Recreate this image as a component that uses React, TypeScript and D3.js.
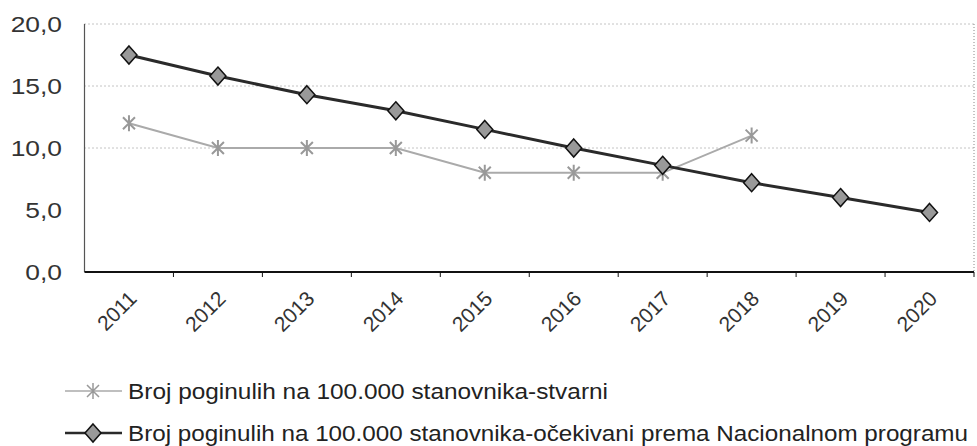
import React from "react";
import * as d3 from "d3";

const width = 977;
const height = 446;
const margin = { top: 24, right: 3, bottom: 174, left: 84.5 };

const years = ["2011", "2012", "2013", "2014", "2015", "2016", "2017", "2018", "2019", "2020"];
const actual = [12.0, 10.0, 10.0, 10.0, 8.0, 8.0, 8.0, 11.0];
const expected = [17.5, 15.8, 14.3, 13.0, 11.5, 10.0, 8.6, 7.2, 6.0, 4.8];
const yTicks = [0, 5, 10, 15, 20];
const gridValues = [10, 15, 20];
const seriesNames = [
  "Broj poginulih na 100.000 stanovnika-stvarni",
  "Broj poginulih na 100.000 stanovnika-očekivani prema Nacionalnom programu",
];

const font = "'Liberation Sans', Arial, sans-serif";

const x = d3
  .scaleBand<string>()
  .domain(years)
  .range([margin.left, width - margin.right])
  .padding(0);
const y = d3
  .scaleLinear()
  .domain([0, 20])
  .range([height - margin.bottom, margin.top]);

const cx = (i: number) => (x(years[i]) as number) + x.bandwidth() / 2;

const line = d3
  .line<number>()
  .x((_, i) => cx(i))
  .y(d => y(d));

// diamond marker
const diamond = (px: number, py: number) =>
  `M${px},${py - 9}L${px + 8},${py}L${px},${py + 9}L${px - 8},${py}Z`;
// asterisk-like marker (x with vertical bar)
const star = (px: number, py: number) =>
  `M${px - 6},${py - 6}L${px + 6},${py + 6}M${px - 6},${py + 6}L${px + 6},${py - 6}M${px},${py - 8}L${px},${py + 8}`;

export default function App() {
  const x0 = margin.left;
  const x1 = width - margin.right;
  const yBottom = y(0);
  const legendBase = [399, 441];
  const legendLen = [480, 840];
  return (
    <svg width={width} height={height} style={{ display: "block", position: "absolute", left: 0, top: 0, background: "#fff" }}>
      {/* grid */}
      {gridValues.map(v => (
        <line key={v} x1={x0} x2={x1} y1={y(v)} y2={y(v)} stroke="#888" strokeWidth={1} strokeDasharray="1,3" />
      ))}
      <line x1={x1} x2={x1} y1={y(20)} y2={yBottom} stroke="#888" strokeWidth={1} strokeDasharray="1,2" />
      {/* axes */}
      <line x1={x0} x2={x0} y1={y(20)} y2={yBottom} stroke="#555" strokeWidth={1.2} />
      <line x1={x0} x2={x1} y1={yBottom} y2={yBottom} stroke="#111" strokeWidth={2} />
      {years.map(yr => (
        <line key={yr} x1={(x(yr) as number) + x.bandwidth()} x2={(x(yr) as number) + x.bandwidth()} y1={yBottom} y2={yBottom + 5} stroke="#111" strokeWidth={1} />
      ))}
      {yTicks.map(v => (
        <text key={v} transform={`translate(62,${y(v)}) scale(1.2,1)`} dy="0.36em" textAnchor="end"
          fontFamily={font} fontSize={22} fill="#333">
          {d3.format(".1f")(v).replace(".", ",")}
        </text>
      ))}
      {years.map((yr, i) => (
        <text
          key={yr}
          transform={`translate(${cx(i) + 9},${yBottom + 28}) rotate(-45)`}
          textAnchor="end"
          fontFamily={font}
          fontSize={21}
          fill="#333"
        >
          {yr}
        </text>
      ))}
      {/* actual series */}
      <path d={line(actual) as string} fill="none" stroke="#aaa" strokeWidth={2} />
      {actual.map((v, i) => (
        <path key={i} d={star(cx(i), y(v))} stroke="#999" strokeWidth={2} fill="none" />
      ))}
      {/* expected series */}
      <path d={line(expected) as string} fill="none" stroke="#2a2a2a" strokeWidth={3} />
      {expected.map((v, i) => (
        <path key={i} d={diamond(cx(i), y(v))} stroke="#111" strokeWidth={1.5} fill="#999" />
      ))}
      {/* legend */}
      <line x1={65} x2={122} y1={legendBase[0] - 8} y2={legendBase[0] - 8} stroke="#aaa" strokeWidth={1.5} />
      <path d={star(93, legendBase[0] - 8)} stroke="#999" strokeWidth={1.5} fill="none" />
      <text x={128} y={legendBase[0]} fontFamily={font} fontSize={22} fill="#222"
        textLength={legendLen[0]} lengthAdjust="spacingAndGlyphs">
        {seriesNames[0]}
      </text>
      <line x1={65} x2={122} y1={legendBase[1] - 8} y2={legendBase[1] - 8} stroke="#2a2a2a" strokeWidth={2.5} />
      <path d={diamond(93, legendBase[1] - 8)} stroke="#111" strokeWidth={1.5} fill="#999" />
      <text x={128} y={legendBase[1]} fontFamily={font} fontSize={22} fill="#222"
        textLength={legendLen[1]} lengthAdjust="spacingAndGlyphs">
        {seriesNames[1]}
      </text>
    </svg>
  );
}
